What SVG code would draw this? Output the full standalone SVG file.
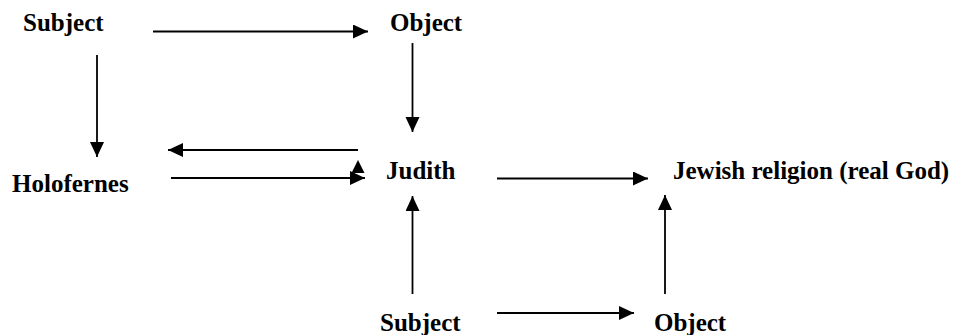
<svg xmlns="http://www.w3.org/2000/svg" width="953" height="335" viewBox="0 0 953 335">
<style>
  .lbl { font-family: "Liberation Serif", "Times New Roman", serif; font-weight: bold; font-size: 25px; fill: #000; }
  .ln { stroke: #000; stroke-width: 1.8; fill: none; marker-end: url(#ah); }
  .hd { fill: #000; }
</style>
<defs>
  <marker id="ah" markerUnits="userSpaceOnUse" markerWidth="16" markerHeight="15" refX="15" refY="7" orient="auto">
    <path d="M0,0 L15,7 L0,14 z" fill="#000"/>
  </marker>
</defs>
<rect width="953" height="335" fill="#fff"/>
<g id="connectors">
  <line class="ln" x1="153" y1="31.5" x2="368" y2="31.5"/>
  <line class="ln" x1="97" y1="55" x2="97" y2="157"/>
  <line class="ln" x1="412.5" y1="43" x2="412.5" y2="132"/>
  <line class="ln" x1="358" y1="150" x2="168" y2="150"/>
  <line class="ln" x1="171" y1="178" x2="365" y2="178"/>
  <polygon class="hd" points="358,160 364.5,173 351.5,173"/>
  <line class="ln" x1="497" y1="178.5" x2="648" y2="178.5"/>
  <line class="ln" x1="412.5" y1="294" x2="412.5" y2="196"/>
  <line class="ln" x1="665" y1="294" x2="665" y2="195"/>
  <line class="ln" x1="497" y1="313" x2="634" y2="313"/>
</g>
<g id="subject-top"><text class="lbl" x="23" y="31">Subject</text></g>
<g id="object-top"><text class="lbl" x="390" y="31">Object</text></g>
<g id="holofernes"><text class="lbl" x="12" y="192">Holofernes</text></g>
<g id="judith"><text class="lbl" x="386" y="179">Judith</text></g>
<g id="jewish-religion"><text class="lbl" x="673" y="179">Jewish religion (real God)</text></g>
<g id="subject-bottom"><text class="lbl" x="380" y="331">Subject</text></g>
<g id="object-bottom"><text class="lbl" x="654" y="331">Object</text></g>
</svg>
